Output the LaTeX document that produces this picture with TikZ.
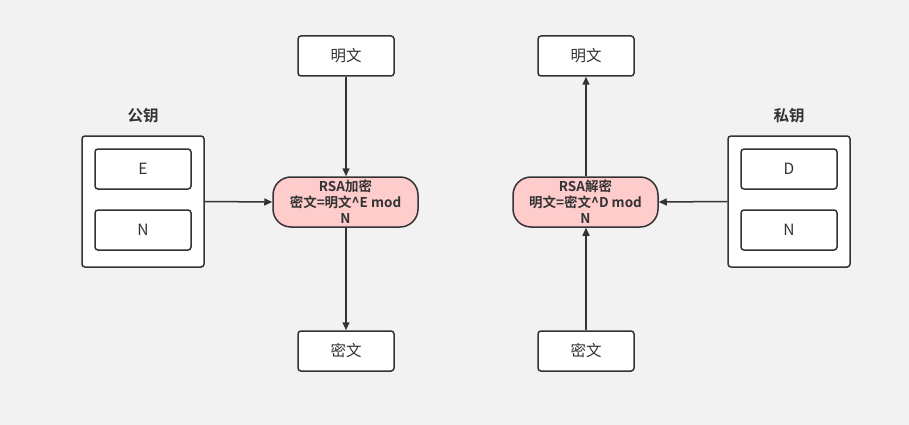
\documentclass[tikz,border=0pt]{standalone}
\usepackage{fontspec}
\setmainfont{Noto Sans CJK SC}[BoldFont={Noto Sans CJK SC Bold}]
\usetikzlibrary{arrows.meta}
\definecolor{bg}{HTML}{F2F2F2}
\definecolor{ln}{HTML}{333333}
\definecolor{pink}{HTML}{FFCCCC}
\tikzset{
  box/.style={draw=ln, line width=1.5pt, fill=white, rounded corners=3pt, minimum width=96pt, minimum height=40pt, inner sep=0pt, text=ln, font=\fontsize{15.5}{18}\selectfont},
  keybox/.style={draw=ln, line width=1.5pt, fill=white, rounded corners=3pt, minimum width=122pt, minimum height=131pt, inner sep=0pt},
  pill/.style={draw=ln, line width=1.5pt, fill=pink, rounded corners=18pt, minimum width=145pt, minimum height=50pt, inner sep=0pt, text=ln, align=center, font=\bfseries\fontsize{13.5}{16}\selectfont},
  lbl/.style={text=ln, font=\bfseries\fontsize{15.5}{18}\selectfont},
  conn/.style={draw=ln, line width=1.5pt, -{Triangle[length=8pt,width=7pt]}}
}
\begin{document}
\begin{tikzpicture}[x=1pt,y=-1pt]
\fill[bg] (0,0) rectangle (909,425);
\useasboundingbox (0,0) rectangle (909,425);
% left
\node[box] (p1) at (346,56) {明文};
\node[box] (c1) at (346,351) {密文};
\node[keybox] (k1) at (143,201.5) {};
\node[box] (e) at (143,169) {E};
\node[box] (n1) at (143,230) {N};
\node[lbl] (l1) at (143,116) {公钥};
\node[pill] (enc) at (345.5,202) {RSA加密\\密文=明文\^{}E mod\\N};
% right
\node[box] (p2) at (586,56) {明文};
\node[box] (c2) at (586,351) {密文};
\node[keybox] (k2) at (789,201.5) {};
\node[box] (d) at (789,169) {D};
\node[box] (n2) at (789,230) {N};
\node[lbl] (l2) at (789,116) {私钥};
\node[pill] (dec) at (585.5,202) {RSA解密\\明文=密文\^{}D mod\\N};
% connectors
\draw[conn] (p1.south) -- (enc.north -| p1.south);
\draw[conn] (enc.south -| c1.north) -- (c1.north);
\draw[conn] (k1.east) -- (enc.west);
\draw[conn] (dec.north -| p2.south) -- (p2.south);
\draw[conn] (c2.north) -- (dec.south -| c2.north);
\draw[conn] (k2.west) -- (dec.east);
\end{tikzpicture}
\end{document}
